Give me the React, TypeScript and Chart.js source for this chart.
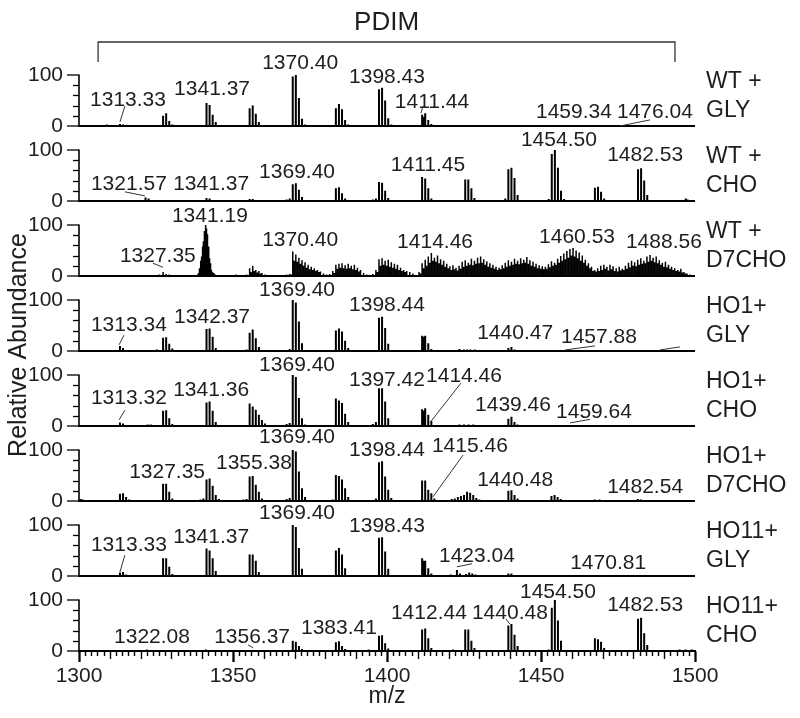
import React, { useEffect, useRef } from 'react';
import { Chart, registerables } from 'chart.js';

Chart.register(...registerables);

type Peak = [number, number];
type Label = [number, number, string];
type Leader = [number, number, number, number];

// ---- axes ----
const mzMin = 1300;
const mzMax = 1500;
const mzTickStep = 50;
const abundanceMax = 147;

const panelTitles: [string, string][] = [
  ['WT +', 'GLY'], ['WT +', 'CHO'], ['WT +', 'D7CHO'], ['HO1+', 'GLY'],
  ['HO1+', 'CHO'], ['HO1+', 'D7CHO'], ['HO11+', 'GLY'], ['HO11+', 'CHO'],
];

// ---- spectra: [m/z, relative abundance] ----
const wtGly: Peak[] = [
  [1302, 2], [1304.5, 2], [1306, 2], [1309, 3], [1310, 2], [1313.3, 4], [1314.3, 3], [1318, 2], [1321, 2], [1323, 2],
  [1327.3, 20], [1328.3, 25], [1329.3, 10], [1330.3, 3], [1335, 2], [1338, 2],
  [1341.4, 45], [1342.4, 41], [1343.4, 22], [1344.4, 8], [1345.4, 2], [1349, 2], [1352, 2],
  [1355.4, 35], [1356.4, 40], [1357.4, 24], [1358.4, 8], [1362, 2], [1366, 2],
  [1369.4, 97], [1370.4, 100], [1371.4, 55], [1372.4, 14], [1373.4, 3], [1377, 2], [1380, 2],
  [1383.4, 35], [1384.4, 43], [1385.4, 33], [1386.4, 12], [1387.4, 3], [1391, 2], [1394, 2],
  [1397.4, 72], [1398.4, 75], [1399.4, 50], [1400.4, 15], [1401.4, 3], [1405, 2],
  [1411.4, 22], [1411.8, 18], [1412.4, 25], [1413.4, 12], [1414.4, 4],
  [1423, 2], [1424.5, 2], [1426, 2], [1427.5, 2], [1429, 2],
  [1439, 2], [1441, 2], [1443, 2], [1445, 2], [1447, 2], [1449, 2], [1451, 2],
  [1459.4, 2], [1469, 2], [1478, 2], [1485, 2],
];
const wtCho: Peak[] = [
  [1302, 1], [1321.6, 7], [1322.6, 5], [1323.6, 2], [1341.4, 6], [1342.4, 5], [1343.4, 2],
  [1355.4, 4], [1356.4, 4], [1357.4, 2],
  [1367.4, 3], [1368.4, 5], [1369.4, 33], [1370.4, 35], [1371.4, 22], [1372.4, 8], [1373.4, 2],
  [1383.4, 25], [1384.4, 27], [1385.4, 15], [1386.4, 5],
  [1395.4, 3], [1396.4, 5], [1397.4, 37], [1398.4, 36], [1399.4, 20], [1400.4, 6],
  [1411.4, 47], [1412.4, 44], [1413.4, 25], [1414.4, 5],
  [1425.4, 42], [1426.4, 42], [1427.4, 25], [1428.4, 6],
  [1438.4, 5], [1439.4, 62], [1440.4, 65], [1441.4, 45], [1442.4, 12],
  [1452.5, 4], [1453.5, 92], [1454.5, 100], [1455.5, 65], [1456.5, 20], [1457.5, 4],
  [1467.5, 26], [1468.5, 28], [1469.5, 18], [1470.5, 5],
  [1481.5, 62], [1482.5, 64], [1483.5, 40], [1484.5, 12], [1497, 5], [1497.6, 3],
];
const wtD7cho: Peak[] = [
  [1318, 2], [1324, 2], [1326, 3], [1327.3, 8], [1328.3, 4], [1329.3, 3], [1330, 2],
  [1338.6, 3], [1338.8, 6], [1339.0, 10], [1339.2, 15], [1339.4, 22], [1339.6, 30], [1339.8, 38], [1340.0, 48],
  [1340.2, 58], [1340.4, 68], [1340.6, 78], [1340.8, 88], [1341.0, 95], [1341.2, 100], [1341.4, 93], [1341.6, 82],
  [1341.8, 70], [1342.0, 58], [1342.2, 45], [1342.4, 35], [1342.6, 25], [1342.8, 18], [1343.0, 12], [1343.2, 8],
  [1343.4, 5], [1343.8, 6], [1344.2, 3],
  [1351, 3],
  [1354.4, 3], [1355.4, 15], [1355.9, 8], [1356.4, 20], [1356.9, 10], [1357.4, 12], [1357.9, 7], [1358.4, 10], [1358.9, 5], [1359.4, 6], [1360.4, 3],
  [1367.4, 3], [1368.4, 4], [1368.9, 3], [1369.4, 48], [1369.9, 30], [1370.4, 42], [1370.9, 28], [1371.4, 36], [1371.9, 24],
  [1372.4, 31], [1372.9, 20], [1373.4, 27], [1373.9, 16], [1374.4, 22], [1374.9, 13], [1375.4, 18], [1375.9, 12],
  [1376.4, 15], [1376.9, 10], [1377.4, 12], [1377.9, 8], [1378.4, 9], [1379.4, 5], [1380.4, 3],
  [1381.4, 4], [1382.4, 10], [1382.9, 6], [1383.4, 22], [1383.9, 14], [1384.4, 24], [1384.9, 16], [1385.4, 25], [1385.9, 15],
  [1386.4, 21], [1386.9, 14], [1387.4, 24], [1387.9, 15], [1388.4, 20], [1388.9, 13], [1389.4, 22], [1389.9, 12],
  [1390.4, 16], [1390.9, 9], [1391.4, 12], [1392.4, 6], [1393.4, 3],
  [1395.4, 4], [1396.4, 12], [1396.9, 8], [1397.4, 33], [1397.9, 20], [1398.4, 35], [1398.9, 22], [1399.4, 30], [1399.9, 20],
  [1400.4, 32], [1400.9, 18], [1401.4, 27], [1401.9, 16], [1402.4, 24], [1402.9, 14], [1403.4, 22], [1403.9, 12],
  [1404.4, 16], [1404.9, 10], [1405.4, 12], [1405.9, 8], [1406.4, 10], [1407.4, 8], [1408.4, 5],
  [1410.4, 8], [1410.9, 5], [1411.4, 25], [1411.9, 15], [1412.4, 32], [1412.9, 20], [1413.4, 38], [1413.9, 26],
  [1414.4, 45], [1414.9, 30], [1415.4, 36], [1415.9, 28], [1416.4, 40], [1416.9, 25], [1417.4, 33], [1417.9, 22],
  [1418.4, 30], [1418.9, 18], [1419.4, 24], [1419.9, 15], [1420.4, 19], [1420.9, 12], [1421.4, 21], [1421.9, 13],
  [1422.4, 16], [1422.9, 11], [1423.4, 20], [1423.9, 14], [1424.4, 28], [1424.9, 18], [1425.4, 31], [1425.9, 20],
  [1426.4, 26], [1426.9, 22], [1427.4, 34], [1427.9, 21], [1428.4, 30], [1428.9, 24], [1429.4, 36], [1429.9, 25],
  [1430.4, 38], [1430.9, 26], [1431.4, 33], [1431.9, 22], [1432.4, 29], [1432.9, 18], [1433.4, 25], [1433.9, 16],
  [1434.4, 22], [1434.9, 14], [1435.4, 18], [1435.9, 12], [1436.4, 16], [1436.9, 13], [1437.4, 21], [1437.9, 15],
  [1438.4, 26], [1438.9, 18], [1439.4, 31], [1439.9, 20], [1440.4, 28], [1440.9, 22], [1441.4, 34], [1441.9, 24],
  [1442.4, 30], [1442.9, 23], [1443.4, 35], [1443.9, 25], [1444.4, 32], [1444.9, 26], [1445.4, 37], [1445.9, 24],
  [1446.4, 31], [1446.9, 20], [1447.4, 28], [1447.9, 18], [1448.4, 24], [1448.9, 15], [1449.4, 21], [1449.9, 14],
  [1450.4, 19], [1450.9, 13], [1451.4, 18], [1451.9, 14], [1452.4, 23], [1452.9, 17], [1453.4, 29], [1453.9, 20],
  [1454.4, 26], [1454.9, 22], [1455.4, 34], [1455.9, 26], [1456.4, 39], [1456.9, 30], [1457.4, 44], [1457.9, 33],
  [1458.4, 49], [1458.9, 36], [1459.4, 53], [1459.9, 40], [1460.4, 55], [1460.9, 38], [1461.4, 50], [1461.9, 35],
  [1462.4, 46], [1462.9, 30], [1463.4, 40], [1463.9, 26], [1464.4, 32], [1464.9, 20], [1465.4, 25], [1465.9, 15],
  [1466.4, 18], [1466.9, 10], [1467.4, 12], [1467.9, 9], [1468.4, 15], [1468.9, 10], [1469.4, 20], [1469.9, 12],
  [1470.4, 22], [1470.9, 14], [1471.4, 18], [1471.9, 11], [1472.4, 22], [1472.9, 13], [1473.4, 19], [1473.9, 10],
  [1474.4, 15], [1474.9, 9], [1475.4, 18], [1475.9, 11], [1476.4, 14], [1476.9, 12], [1477.4, 20], [1477.9, 14],
  [1478.4, 26], [1478.9, 17], [1479.4, 30], [1479.9, 20], [1480.4, 27], [1480.9, 19], [1481.4, 32], [1481.9, 22],
  [1482.4, 35], [1482.9, 24], [1483.4, 30], [1483.9, 25], [1484.4, 38], [1484.9, 28], [1485.4, 41], [1485.9, 30],
  [1486.4, 36], [1486.9, 27], [1487.4, 38], [1487.9, 25], [1488.4, 31], [1488.9, 22], [1489.4, 26], [1489.9, 18],
  [1490.4, 28], [1490.9, 17], [1491.4, 22], [1491.9, 14], [1492.4, 18], [1492.9, 12], [1493.4, 15], [1493.9, 10],
  [1494.4, 12], [1494.9, 9], [1495.4, 14], [1495.9, 7], [1496.4, 8], [1496.9, 5], [1497.4, 5], [1498.4, 3],
];
const ho1Gly: Peak[] = [
  [1313.3, 10], [1314.3, 6], [1315.3, 2], [1325.3, 3],
  [1327.3, 26], [1328.3, 27], [1329.3, 14], [1330.3, 5],
  [1341.4, 43], [1342.4, 44], [1343.4, 28], [1344.4, 6],
  [1354.4, 3], [1355.4, 36], [1356.4, 42], [1357.4, 25], [1358.4, 8],
  [1368.4, 4], [1369.4, 100], [1370.4, 95], [1371.4, 58], [1372.4, 15],
  [1383.4, 40], [1384.4, 44], [1385.4, 38], [1386.4, 20], [1387.4, 6],
  [1397.4, 65], [1398.4, 67], [1399.4, 45], [1400.4, 14],
  [1411.4, 30], [1411.8, 28], [1412.4, 30], [1413.4, 15], [1414.4, 4],
  [1423.5, 4], [1425, 3], [1426, 3], [1427, 3], [1428.5, 3],
  [1439.4, 6], [1440.4, 8], [1441.4, 3],
];
const ho1Cho: Peak[] = [
  [1313.3, 7], [1314.3, 5], [1322.3, 3], [1323.3, 3],
  [1327.3, 30], [1328.3, 31], [1329.3, 15], [1330.3, 4],
  [1341.4, 46], [1342.4, 48], [1343.4, 30], [1344.4, 8],
  [1355.4, 44], [1356.4, 38], [1357.4, 32], [1358.4, 22], [1359.4, 12], [1360.4, 5], [1361.4, 2],
  [1367.4, 4], [1368.4, 6], [1369.4, 100], [1370.4, 96], [1371.4, 55], [1372.4, 15], [1373.4, 3],
  [1383.4, 54], [1384.4, 50], [1385.4, 45], [1386.4, 24], [1387.4, 8],
  [1395.4, 4], [1396.4, 8], [1397.4, 74], [1398.4, 74], [1399.4, 48], [1400.4, 15],
  [1411.4, 33], [1411.8, 30], [1412.4, 35], [1413.4, 22], [1414.4, 10],
  [1423.5, 3], [1425, 3], [1426.5, 3], [1428, 3],
  [1439.4, 14], [1440.4, 18], [1441.4, 8], [1442.4, 3],
];
const ho1D7cho: Peak[] = [
  [1300.5, 4], [1301.2, 3], [1313.3, 14], [1314.3, 15], [1315.3, 8], [1316.3, 3],
  [1327.3, 34], [1328.3, 34], [1329.3, 18], [1330.3, 5],
  [1339.4, 3], [1340.4, 5], [1341.4, 42], [1342.4, 44], [1343.4, 30], [1344.4, 12], [1345.4, 4],
  [1353.4, 3], [1354.4, 4], [1355.4, 48], [1356.4, 49], [1357.4, 32], [1358.4, 18], [1359.4, 5],
  [1367.4, 4], [1368.4, 6], [1369.4, 100], [1370.4, 97], [1371.4, 58], [1372.4, 25], [1373.4, 8],
  [1382.4, 3], [1383.4, 51], [1384.4, 49], [1385.4, 42], [1386.4, 25], [1387.4, 8],
  [1396.4, 5], [1397.4, 76], [1398.4, 78], [1399.4, 48], [1400.4, 22], [1401.4, 6],
  [1411.4, 40], [1412.4, 40], [1413.4, 22], [1414.4, 15], [1415.4, 5],
  [1421, 4], [1422, 5], [1423, 8], [1424, 10], [1425, 12], [1426, 18], [1427, 16], [1428, 12], [1429, 6], [1430, 3],
  [1439.4, 20], [1440.4, 21], [1441.4, 12], [1442.4, 5],
  [1453.4, 10], [1454.4, 12], [1455.4, 8], [1456.4, 4],
  [1467.5, 3], [1469, 3], [1481.4, 4], [1482.4, 3],
];
const ho11Gly: Peak[] = [
  [1313.3, 7], [1314.3, 8], [1315.3, 3],
  [1327.3, 35], [1328.3, 35], [1329.3, 18], [1330.3, 4],
  [1341.4, 54], [1342.4, 50], [1343.4, 35], [1344.4, 10],
  [1355.4, 42], [1356.4, 42], [1357.4, 30], [1358.4, 8],
  [1369.4, 100], [1370.4, 96], [1371.4, 55], [1372.4, 14],
  [1383.4, 50], [1384.4, 55], [1385.4, 42], [1386.4, 15],
  [1397.4, 75], [1398.4, 76], [1399.4, 48], [1400.4, 14],
  [1411.4, 35], [1411.8, 30], [1412.4, 30], [1413.4, 15], [1414.4, 5],
  [1420.7, 3], [1422.7, 12], [1423.7, 5], [1425.7, 4], [1426.7, 7], [1427.7, 5], [1428.7, 3],
  [1439.4, 5], [1440.4, 5],
];
const ho11Cho: Peak[] = [
  [1322, 3], [1341.2, 3], [1356.5, 2],
  [1369.4, 20], [1370.4, 18], [1371.4, 10], [1372.4, 4],
  [1383.4, 17], [1384.4, 19], [1385.4, 10], [1386.4, 4], [1394, 3],
  [1397.4, 30], [1398.4, 31], [1399.4, 15], [1400.4, 5],
  [1411.4, 42], [1412.4, 44], [1413.4, 25], [1414.4, 6], [1421.5, 3],
  [1425.4, 42], [1426.4, 42], [1427.4, 20], [1428.4, 6],
  [1439.4, 50], [1440.4, 53], [1441.4, 32], [1442.4, 10],
  [1452.5, 3], [1453.5, 85], [1454.5, 100], [1455.5, 60], [1456.5, 20],
  [1467.5, 25], [1468.5, 23], [1469.5, 18], [1470.5, 6],
  [1481.5, 63], [1482.5, 65], [1483.5, 35], [1484.5, 12], [1495, 3], [1497, 3], [1499, 3],
];

// ---- peak annotations: [m/z, abundance, text] and leader lines [m/z1, ab1, m/z2, ab2] ----
const wtGlyLabels: Label[] = [
  [1315.9, 51, '1313.33'], [1343.2, 72, '1341.37'], [1371.8, 123, '1370.40'], [1400.0, 96, '1398.43'],
  [1414.6, 47, '1411.44'], [1460.7, 27, '1459.34'], [1487.0, 27, '1476.04'],
];
const wtGlyLeaders: Leader[] = [[1314.9, 39, 1313.3, 8], [1411.7, 39, 1411.0, 25], [1475.6, 0, 1485.4, 12]];
const wtChoLabels: Label[] = [
  [1316.2, 33, '1321.57'], [1342.9, 33, '1341.37'], [1370.8, 57, '1369.40'], [1413.3, 70, '1411.45'],
  [1455.8, 120, '1454.50'], [1483.8, 90, '1482.53'],
];
const wtChoLeaders: Leader[] = [[1314.9, 18, 1321.4, 10]];
const wtD7choLabels: Label[] = [
  [1342.5, 118, '1341.19'], [1325.6, 38, '1327.35'], [1371.8, 70, '1370.40'], [1415.6, 67, '1414.46'],
  [1461.7, 77, '1460.53'], [1489.9, 67, '1488.56'],
];
const wtD7choLeaders: Leader[] = [[1324.0, 25, 1327.3, 17]];
const ho1GlyLabels: Label[] = [
  [1316.2, 51, '1313.34'], [1343.2, 67, '1342.37'], [1370.8, 120, '1369.40'], [1400.0, 90, '1398.44'],
  [1441.6, 35, '1440.47'], [1468.8, 27, '1457.88'],
];
const ho1GlyLeaders: Leader[] = [[1314.6, 31, 1313.0, 12], [1457.8, 2, 1467.5, 10], [1488.6, 2, 1495.1, 8]];
const ho1ChoLabels: Label[] = [
  [1316.2, 54, '1313.32'], [1342.9, 71, '1341.36'], [1370.8, 120, '1369.40'], [1400.0, 90, '1397.42'],
  [1425.0, 97, '1414.46'], [1440.9, 41, '1439.46'], [1467.2, 28, '1459.64'],
];
const ho1ChoLeaders: Leader[] = [[1314.9, 31, 1313.0, 12], [1424.0, 84, 1414.0, 7], [1459.4, 6, 1465.9, 13]];
const ho1D7choLabels: Label[] = [
  [1328.6, 57, '1327.35'], [1356.8, 74, '1355.38'], [1370.8, 125, '1369.40'], [1400.0, 100, '1398.44'],
  [1426.9, 107, '1415.46'], [1441.6, 41, '1440.48'], [1483.8, 28, '1482.54'],
];
const ho1D7choLeaders: Leader[] = [[1424.7, 90, 1414.9, 8]];
const ho11GlyLabels: Label[] = [
  [1316.2, 61, '1313.33'], [1342.9, 77, '1341.37'], [1370.8, 123, '1369.40'], [1400.0, 97, '1398.43'],
  [1429.2, 38, '1423.04'], [1471.8, 25, '1470.81'],
];
const ho11GlyLeaders: Leader[] = [[1314.9, 41, 1313.3, 8], [1422.7, 18, 1427.6, 24]];
const ho11ChoLabels: Label[] = [
  [1323.7, 28, '1322.08'], [1356.2, 28, '1356.37'], [1384.4, 44, '1383.41'], [1413.6, 74, '1412.44'],
  [1439.9, 74, '1440.48'], [1455.5, 116, '1454.50'], [1483.8, 90, '1482.53'],
];
const ho11ChoLeaders: Leader[] = [[1354.9, 12, 1356.5, 6], [1438.6, 63, 1439.9, 53]];

const spectra: Peak[][] = [wtGly, wtCho, wtD7cho, ho1Gly, ho1Cho, ho1D7cho, ho11Gly, ho11Cho];
const peakLabels: Label[][] = [wtGlyLabels, wtChoLabels, wtD7choLabels, ho1GlyLabels, ho1ChoLabels, ho1D7choLabels, ho11GlyLabels, ho11ChoLabels];
const peakLeaders: Leader[][] = [wtGlyLeaders, wtChoLeaders, wtD7choLeaders, ho1GlyLeaders, ho1ChoLeaders, ho1D7choLeaders, ho11GlyLeaders, ho11ChoLeaders];

const FONT = '"Liberation Sans", Arial, Helvetica, sans-serif';
const INK = '#000';
const TEXT = '#1e1e1e';

function sticks(peaks: Peak[]) {
  const pts: { x: number; y: number }[] = [];
  for (const [mz, h] of peaks) {
    pts.push({ x: mz, y: 0 }, { x: mz, y: h }, { x: mz, y: 0 });
  }
  return pts;
}

const decorPlugin = {
  id: 'decor',
  afterDraw(chart: any) {
    const ctx: CanvasRenderingContext2D = chart.ctx;
    const xs = chart.scales.x;
    const area = chart.chartArea;
    ctx.save();
    ctx.strokeStyle = INK;
    ctx.fillStyle = TEXT;

    // y axis spines and minor ticks
    for (let i = 0; i < spectra.length; i++) {
      const ys = chart.scales['y' + i];
      const ax = ys.right;
      ctx.lineWidth = 1.6;
      ctx.beginPath();
      ctx.moveTo(ax, ys.getPixelForValue(0) + 1);
      ctx.lineTo(ax, ys.getPixelForValue(100) - 0.5);
      ctx.stroke();
      ctx.lineWidth = 1.3;
      for (let v = 20; v < 100; v += 20) {
        const py = Math.round(ys.getPixelForValue(v)) + 0.5;
        ctx.beginPath();
        ctx.moveTo(ax - 6, py);
        ctx.lineTo(ax, py);
        ctx.stroke();
      }
    }

    // x axis tick marks (major every 50, medium every 10, minor every 2)
    const baseY = area.bottom;
    for (let v = mzMin; v <= mzMax; v += 2) {
      const px = Math.round(xs.getPixelForValue(v)) + 0.5;
      const len = v % mzTickStep === 0 ? 11 : v % 10 === 0 ? 8 : 5;
      ctx.lineWidth = v % mzTickStep === 0 ? 1.8 : 1.4;
      ctx.beginPath();
      ctx.moveTo(px, baseY);
      ctx.lineTo(px, baseY + len);
      ctx.stroke();
    }

    // peak labels & leaders
    ctx.font = `21px ${FONT}`;
    ctx.textAlign = 'center';
    ctx.textBaseline = 'middle';
    for (let i = 0; i < spectra.length; i++) {
      const ys = chart.scales['y' + i];
      ctx.lineWidth = 1;
      ctx.strokeStyle = '#333';
      for (const [m1, a1, m2, a2] of peakLeaders[i]) {
        ctx.beginPath();
        ctx.moveTo(xs.getPixelForValue(m1), ys.getPixelForValue(a1));
        ctx.lineTo(xs.getPixelForValue(m2), ys.getPixelForValue(a2));
        ctx.stroke();
      }
      for (const [mz, ab, text] of peakLabels[i]) {
        ctx.fillText(text, xs.getPixelForValue(mz), ys.getPixelForValue(ab));
      }
      // panel titles on right
      ctx.save();
      ctx.font = `23px ${FONT}`;
      ctx.textAlign = 'left';
      ctx.fillText(panelTitles[i][0], area.right + 11, ys.getPixelForValue(86));
      ctx.fillText(panelTitles[i][1], area.right + 11, ys.getPixelForValue(31));
      ctx.restore();
    }

    // PDIM bracket
    const bx1 = xs.getPixelForValue(1306.2);
    const bx2 = xs.getPixelForValue(1493.5);
    const by = area.top - 9;
    ctx.strokeStyle = '#333';
    ctx.lineWidth = 1.3;
    ctx.beginPath();
    ctx.moveTo(bx1, by + 20);
    ctx.lineTo(bx1, by);
    ctx.lineTo(bx2, by);
    ctx.lineTo(bx2, by + 20);
    ctx.stroke();
    ctx.font = `26px ${FONT}`;
    ctx.textAlign = 'center';
    ctx.fillText('PDIM', (bx1 + bx2) / 2, area.top - 28);

    // axis titles
    ctx.font = `23px ${FONT}`;
    ctx.fillText('m/z', (area.left + area.right) / 2, 697);
    ctx.save();
    ctx.translate(19, 345);
    ctx.rotate(-Math.PI / 2);
    ctx.font = `25px ${FONT}`;
    ctx.fillText('Relative Abundance', 0, 0);
    ctx.restore();

    ctx.restore();
  },
};

export default function App() {
  const ref = useRef<HTMLCanvasElement | null>(null);

  useEffect(() => {
    if (!ref.current) return;
    const yScales: Record<string, any> = {};
    // created in reverse so the first panel lands on top of the stack
    for (let i = spectra.length - 1; i >= 0; i--) {
      yScales['y' + i] = {
        type: 'linear',
        position: 'left',
        stack: 'panels',
        stackWeight: 1,
        min: 0,
        max: abundanceMax,
        afterFit: (s: any) => { s.width = 79; },
        border: { display: false },
        grid: {
          drawOnChartArea: true,
          drawTicks: true,
          tickLength: 12,
          color: (c: any) => (c.tick && c.tick.value === 0 ? INK : 'rgba(0,0,0,0)'),
          lineWidth: (c: any) => (c.tick && c.tick.value === 0 ? 2 : 0),
          tickColor: (c: any) => (c.tick && (c.tick.value === 0 || c.tick.value === 100) ? INK : 'rgba(0,0,0,0)'),
          tickWidth: 1.3,
        },
        ticks: {
          stepSize: 20,
          autoSkip: false,
          padding: 4,
          color: TEXT,
          font: { family: FONT, size: 21 },
          callback: (v: number) => (v === 0 || v === 100 ? String(v) : v < 100 ? '' : null),
        },
      };
    }
    const chart = new Chart(ref.current, {
      type: 'line',
      data: {
        datasets: spectra.map((p, i) => ({
          label: panelTitles[i].join(' '),
          data: sticks(p),
          yAxisID: 'y' + i,
          borderColor: INK,
          borderWidth: i === 2 ? 1.5 : 2,
          pointRadius: 0,
          tension: 0,
          fill: false,
        })),
      },
      options: {
        responsive: false,
        animation: false,
        devicePixelRatio: 1,
        events: [],
        layout: { padding: { top: 51, right: 105, left: 0, bottom: 0 } },
        plugins: { legend: { display: false }, tooltip: { enabled: false }, title: { display: false } },
        scales: {
          x: {
            type: 'linear',
            position: 'bottom',
            min: mzMin,
            max: mzMax,
            afterFit: (s: any) => { s.height = 67; },
            border: { display: true, color: INK, width: 2 },
            grid: { drawOnChartArea: false, drawTicks: true, tickLength: 11, tickColor: INK, tickWidth: 1.8 },
            ticks: {
              stepSize: mzTickStep,
              autoSkip: false,
              padding: 2,
              maxRotation: 0,
              color: TEXT,
              font: { family: FONT, size: 21 },
              callback: (v: number) => String(v),
            },
          },
          ...yScales,
        },
      },
      plugins: [decorPlugin],
    } as any);
    return () => chart.destroy();
  }, []);

  return (
    <div style={{ position: 'absolute', left: 0, top: 0, width: 800, height: 718, background: '#fff' }}>
      <canvas ref={ref} width={800} height={718} style={{ display: 'block', width: 800, height: 718 }} />
    </div>
  );
}
